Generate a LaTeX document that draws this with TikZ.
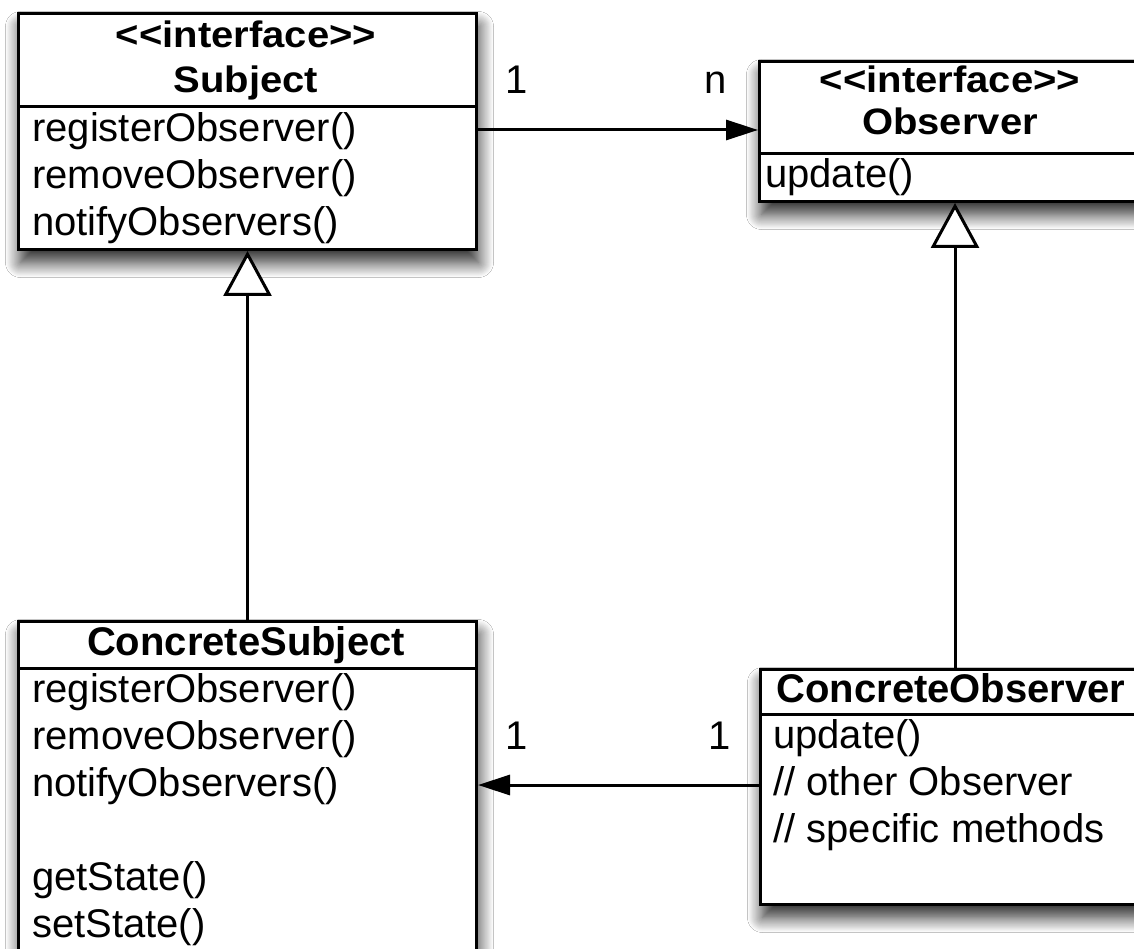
\documentclass[tikz,border=0pt]{standalone}
\usepackage{fontspec}
\setmainfont{Liberation Sans}
\usetikzlibrary{arrows.meta,shadows.blur}
\begin{document}
\begin{tikzpicture}[x=1pt,y=-1pt,
  umlbox/.style={draw, line width=3pt, fill=white, anchor=north west, inner sep=0pt,
    blur shadow={shadow xshift=2pt, shadow yshift=-13pt, shadow blur radius=15pt, shadow opacity=85, shadow blur steps=15}},
  txt/.style={anchor=base west, inner sep=0pt, font=\fontsize{40}{47}\selectfont},
  ttl/.style={anchor=base, inner sep=0pt, font=\fontsize{40}{47}\selectfont\bfseries},
  lbl/.style={anchor=base, inner sep=0pt, font=\fontsize{40}{47}\selectfont},
  conn/.style={line width=3pt},
  inh/.style={conn, -{Triangle[open, length=45pt, width=48pt, fill=white]}},
  assoc/.style={conn, -{Triangle[length=32pt, width=20pt]}}]
\newcommand{\sqz}[1]{\scalebox{1}[0.92]{#1}}
\useasboundingbox (0,0) rectangle (1134,949);
\fill[white] (0,0) rectangle (1134,949);
\begin{scope}
\clip (0,0) rectangle (1134,949);
% boxes
\node[umlbox, minimum width=458pt, minimum height=236pt] (subj) at (17,12) {};
\node[umlbox, minimum width=384pt, minimum height=140pt] (obs) at (758,60) {};
\node[umlbox, minimum width=458pt, minimum height=350pt] (csubj) at (17,620) {};
\node[umlbox, minimum width=384pt, minimum height=235pt] (cobs) at (759,668) {};
% dividers
\draw[conn] (subj.west |- 0,107) -- (subj.east |- 0,107);
\draw[conn] (obs.west |- 0,154) -- (obs.east |- 0,154);
\draw[conn] (csubj.west |- 0,668) -- (csubj.east |- 0,668);
\draw[conn] (cobs.west |- 0,714) -- (cobs.east |- 0,714);
% Subject texts
\node[ttl] (subjst) at (246,48) {\sqz{<{}<interface>{}>}};
\node[ttl] (subjn) at (246,93) {\sqz{Subject}};
\node[txt] (subjm1) at (32,142) {registerObserver()};
\node[txt] (subjm2) at (32,189) {removeObserver()};
\node[txt] (subjm3) at (32,236) {notifyObservers()};
% Observer texts
\node[ttl] (obsst) at (950,93) {\sqz{<{}<interface>{}>}};
\node[ttl] (obsn) at (950,135) {\sqz{Observer}};
\node[txt] (obsm1) at (765,188) {update()};
% ConcreteSubject texts
\node[ttl] (csubjn) at (246,655) {ConcreteSubject};
\node[txt] (csm1) at (32,702) {registerObserver()};
\node[txt] (csm2) at (32,749) {removeObserver()};
\node[txt] (csm3) at (32,796) {notifyObservers()};
\node[txt] (csm4) at (32,890) {getState()};
\node[txt] (csm5) at (32,937) {setState()};
% ConcreteObserver texts
\node[ttl] (cobsn) at (951,702) {ConcreteObserver};
\node[txt] (com1) at (773,748) {update()};
\node[txt] (com2) at (773,795) {// other Observer};
\node[txt] (com3) at (773,842) {// specific methods};
% connectors
\coordinate (ox) at (955,0);
\draw[assoc] (subj.east |- 0,130) -- (obs.west |- 0,130);
\draw[assoc] (cobs.west |- 0,785) -- (csubj.east |- 0,785);
\draw[inh] (csubj.north) -- (subj.south);
\draw[inh] (cobs.north -| ox) -- (obs.south -| ox);
% multiplicities
\node[lbl] (m1) at (517,94) {1};
\node[lbl] (m2) at (716,94) {n};
\node[lbl] (m3) at (517,749) {1};
\node[lbl] (m4) at (720,749) {1};
\end{scope}
\end{tikzpicture}
\end{document}
